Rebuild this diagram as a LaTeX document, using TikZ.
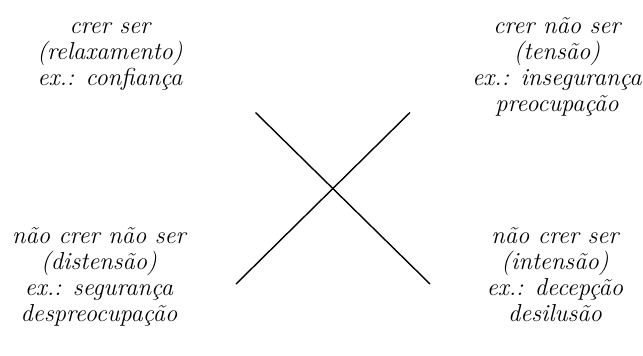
\documentclass[tikz,border=0pt]{standalone}
\usepackage{fontspec}
\begin{document}
\begin{tikzpicture}[x=1pt,y=-1pt,
  lbl/.style={align=center,inner sep=0pt,anchor=base,font=\fontsize{24.5}{26}\selectfont\itshape},
  xline/.style={line width=1.4pt,black}]
\useasboundingbox (0,0) rectangle (643,356);
\node[lbl] (tl) at (110,85) {crer ser\\(relaxamento)\\ex.: confiança};
\node[lbl] (tr) at (557,111) {crer não ser\\(tensão)\\ex.: insegurança\\preocupação};
\node[lbl] (bl) at (99,321) {não crer não ser\\(distensão)\\ex.: segurança\\despreocupação};
\node[lbl] (br) at (555,321) {não crer ser\\(intensão)\\ex.: decepção\\desilusão};
\coordinate (a1) at (255.5,112.5);
\coordinate (a2) at (430,284);
\coordinate (b1) at (410,112.5);
\coordinate (b2) at (236,284);
\draw[xline] (a1) -- (a2);
\draw[xline] (b1) -- (b2);
\end{tikzpicture}
\end{document}
